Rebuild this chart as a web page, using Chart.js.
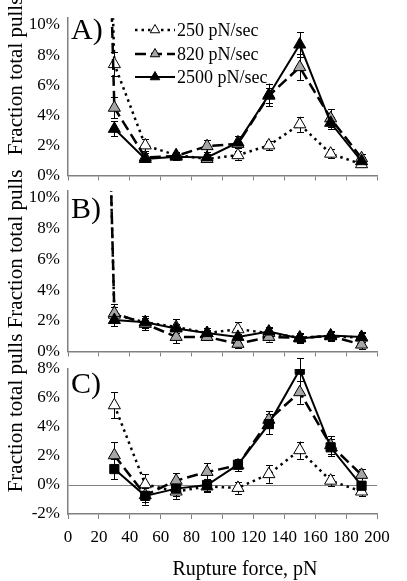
<!DOCTYPE html>
<html><head><meta charset="utf-8">
<script src="https://cdn.jsdelivr.net/npm/chart.js@4/dist/chart.umd.min.js"></script>
<style>html,body{margin:0;padding:0;background:#fff;overflow:hidden;width:407px;height:581px}
canvas{position:absolute;left:0;top:0}</style></head>
<body>
<canvas id="cA" width="407" height="581"></canvas>
<canvas id="cB" width="407" height="581"></canvas>
<canvas id="cC" width="407" height="581"></canvas>
<script>
// Rupture force categories (pN); 10 pN values are far off-scale (only their line stubs show)
const force = [10, 30, 50, 70, 90, 110, 130, 150, 170, 190];
const seriesLabels = ['250 pN/sec', '820 pN/sec', '2500 pN/sec'];
const yTitle = 'Fraction total pulls';
const xTitle = 'Rupture force, pN';

// Panel A (percent)
const a250  = [80, 7.4, 2.0, 1.35, 1.1, 1.35, 2.0, 3.4, 1.45, 0.75];
const a820  = [80, 4.5, 1.2, 1.3, 1.95, 2.1, 5.3, 7.2, 3.8, 1.15];
const a2500 = [null, 3.1, 1.1, 1.25, 1.2, 2.2, 5.35, 8.7, 3.5, 0.95];
const a250Err  = [null, 0.8, 0.4, 0.2, 0.2, 0.3, 0.3, 0.5, 0.3, 0.2];
const a820Err  = [null, 0.7, 0.3, 0.2, 0.4, 0.3, 0.5, 0.85, 0.6, 0.3];
const a2500Err = [null, 0.5, 0.2, 0.2, 0.2, 0.4, 0.75, 0.8, 0.4, 0.3];

// Panel B (percent)
const b250  = [80, 2.4, 1.9, 1.6, 1.2, 1.45, 1.2, 0.9, 1.0, 0.9];
const b820  = [80, 2.5, 1.8, 0.95, 0.95, 0.5, 0.95, 0.9, 1.0, 0.45];
const b2500 = [null, 2.05, 1.9, 1.5, 1.2, 0.95, 1.3, 0.85, 1.05, 0.95];
const b250Err  = [null, 0.5, 0.4, 0.5, 0.3, 0.45, 0.3, 0.3, 0.3, 0.3];
const b820Err  = [null, 0.6, 0.4, 0.4, 0.2, 0.3, 0.3, 0.3, 0.3, 0.3];
const b2500Err = [null, 0.4, 0.3, 0.3, 0.2, 0.2, 0.3, 0.3, 0.3, 0.3];

// Panel C (percent)
const c250  = [null, 5.5, 0.05, -0.45, -0.1, -0.2, 0.75, 2.4, 0.3, -0.45];
const c820  = [null, 2.05, -0.7, 0.3, 0.9, 1.35, 4.5, 6.4, 2.75, 0.7];
const c2500 = [null, 1.1, -0.75, -0.25, 0.0, 1.4, 4.2, 7.95, 2.6, -0.05];
const c250Err  = [null, 0.9, 0.7, 0.5, 0.4, 0.4, 0.6, 0.6, 0.4, 0.3];
const c820Err  = [null, 0.9, 0.5, 0.5, 0.6, 0.4, 0.6, 0.8, 0.6, 0.4];
const c2500Err = [null, 0.7, 0.6, 0.5, 0.4, 0.4, 0.7, 0.8, 0.6, 0.3];

const FONT = "'Liberation Serif','Times New Roman',serif";
Chart.defaults.font.family = FONT;
Chart.defaults.color = '#000';

const W = 407, H = 581;
const AXIS = '#808080';
const lineStyles = [
  {dash: [2.5, 4], width: 2.5, fill: '#ffffff'},
  {dash: [11, 5], width: 2.5, fill: '#a6a6a6'},
  {dash: [], width: 2, fill: '#000000'}
];

function toPts(vals) { return force.map((x, i) => ({x: x, y: vals[i]})); }

function drawMarker(ctx, shape, x, y, r, fill) {
  ctx.save();
  ctx.fillStyle = fill; ctx.strokeStyle = '#000'; ctx.lineWidth = 1; ctx.setLineDash([]);
  ctx.beginPath();
  if (shape === 'rect') {
    const s = r * Math.SQRT1_2;
    ctx.rect(x - s, y - s, 2 * s, 2 * s);
  } else {
    for (let k = 0; k < 3; k++) {
      const a = -Math.PI / 2 + k * 2 * Math.PI / 3;
      const px = x + r * Math.cos(a), py = y + r * Math.sin(a);
      if (k === 0) ctx.moveTo(px, py); else ctx.lineTo(px, py);
    }
    ctx.closePath();
  }
  ctx.fill(); ctx.stroke();
  ctx.restore();
}

const panelPlugin = {
  id: 'panelExtras',
  beforeDatasetsDraw(chart) {
    const o = chart.options.plugins.panelExtras;
    const ctx = chart.ctx, xs = chart.scales.x, ys = chart.scales.y;
    ctx.save();
    ctx.strokeStyle = '#000'; ctx.lineWidth = 1; ctx.setLineDash([]);
    o.errs.forEach((errArr, si) => {
      const vals = o.vals[si];
      force.forEach((f, i) => {
        if (errArr[i] == null || vals[i] == null) return;
        const px = Math.round(xs.getPixelForValue(f)) + 0.5;
        const y1 = ys.getPixelForValue(vals[i] + errArr[i]);
        const y2 = ys.getPixelForValue(vals[i] - errArr[i]);
        ctx.beginPath();
        ctx.moveTo(px, y1); ctx.lineTo(px, y2);
        ctx.moveTo(px - 3.5, Math.round(y1) + 0.5); ctx.lineTo(px + 3.5, Math.round(y1) + 0.5);
        ctx.moveTo(px - 3.5, Math.round(y2) + 0.5); ctx.lineTo(px + 3.5, Math.round(y2) + 0.5);
        ctx.stroke();
      });
    });
    ctx.restore();
  },
  afterDraw(chart) {
    const o = chart.options.plugins.panelExtras;
    const ctx = chart.ctx, ca = chart.chartArea;
    ctx.save();
    ctx.fillStyle = '#000';
    // panel letter
    ctx.font = '30px ' + FONT;
    ctx.textAlign = 'left'; ctx.textBaseline = 'alphabetic';
    ctx.fillText(o.letter, 71, o.letterY);
    // rotated y-axis title
    ctx.save();
    ctx.translate(o.titleX, o.titleY);
    ctx.rotate(-Math.PI / 2);
    ctx.font = '21px ' + FONT;
    ctx.textAlign = 'center'; ctx.textBaseline = 'middle';
    ctx.fillText(yTitle, 0, 0);
    ctx.restore();
    // legend
    if (o.legend) {
      const rows = [30, 54, 77];
      chart.data.datasets.forEach((ds, i) => {
        const y = rows[i];
        ctx.save();
        ctx.strokeStyle = '#000'; ctx.lineWidth = ds.borderWidth;
        ctx.setLineDash(ds.borderDash || []);
        ctx.beginPath(); ctx.moveTo(135, y); ctx.lineTo(175, y); ctx.stroke();
        ctx.restore();
        drawMarker(ctx, ds.pointStyle, 155, y, 5.5, ds.pointBackgroundColor);
        ctx.font = '18px ' + FONT;
        ctx.textAlign = 'left'; ctx.textBaseline = 'middle';
        ctx.fillText(ds.label, 177, y + 1);
      });
    }
    // x-axis title
    if (o.xTitle) {
      ctx.font = '20px ' + FONT;
      ctx.textAlign = 'center'; ctx.textBaseline = 'alphabetic';
      ctx.fillText(xTitle, 245, 575);
    }
    ctx.restore();
  }
};

function makePanel(cfg) {
  const shapes = ['triangle', 'triangle', cfg.lastShape];
  const datasets = cfg.vals.map((v, i) => ({
    label: seriesLabels[i],
    data: toPts(v),
    borderColor: '#000',
    borderWidth: lineStyles[i].width,
    borderDash: lineStyles[i].dash,
    pointStyle: shapes[i],
    pointRadius: shapes[i] === 'rect' ? 6.5 : 7,
    pointBackgroundColor: lineStyles[i].fill,
    pointBorderColor: '#000',
    pointBorderWidth: 1,
    tension: 0,
    spanGaps: false,
    order: 3 - i
  }));
  const xh = cfg.showX ? (H - cfg.bottom) : 6;
  return new Chart(document.getElementById(cfg.id), {
    type: 'line',
    data: {datasets: datasets},
    options: {
      responsive: false, animation: false, devicePixelRatio: 1,
      events: [],
      layout: {padding: {left: 0, right: W - 377, top: cfg.top, bottom: H - cfg.bottom - xh}},
      plugins: {
        legend: {display: false}, tooltip: {enabled: false},
        panelExtras: {
          letter: cfg.letter, letterY: cfg.letterY, titleX: 16, titleY: cfg.titleY,
          legend: cfg.legend, xTitle: cfg.showX, vals: cfg.vals, errs: cfg.errs
        }
      },
      scales: {
        x: {
          type: 'linear', min: 0, max: 200,
          afterFit(s) { s.height = xh; },
          ticks: {display: cfg.showX, stepSize: 20, font: {size: 17}, padding: 8, maxRotation: 0, autoSkip: false},
          grid: {drawOnChartArea: false, drawTicks: true, tickLength: 5, color: AXIS, lineWidth: 1},
          border: {display: true, color: AXIS, width: 1.5}
        },
        y: {
          min: cfg.yMin, max: cfg.yMax,
          afterFit(s) { s.width = 68; },
          afterBuildTicks(s) { s.ticks = s.ticks.filter(t => Math.abs(t.value / 2 - Math.round(t.value / 2)) < 1e-6); },
          ticks: {stepSize: 2, includeBounds: false, padding: 8, font: {size: 17}, callback: v => v + '%'},
          grid: {
            drawOnChartArea: cfg.zeroLine, drawTicks: false,
            color: c => (c.tick && c.tick.value === 0 && cfg.zeroLine) ? AXIS : 'rgba(0,0,0,0)',
            lineWidth: 1
          },
          border: {display: true, color: AXIS, width: 1.5}
        }
      }
    },
    plugins: [panelPlugin]
  });
}

makePanel({id: 'cA', top: 13.7, bottom: 175.5, yMin: 0, yMax: 10.45, letter: 'A)', letterY: 39, titleY: 76,
  legend: true, showX: false, zeroLine: false, lastShape: 'triangle',
  vals: [a250, a820, a2500], errs: [a250Err, a820Err, a2500Err]});
makePanel({id: 'cB', top: 191.1, bottom: 351.5, yMin: 0, yMax: 10.45, letter: 'B)', letterY: 218, titleY: 249,
  legend: false, showX: false, zeroLine: false, lastShape: 'triangle',
  vals: [b250, b820, b2500], errs: [b250Err, b820Err, b2500Err]});
makePanel({id: 'cC', top: 369, bottom: 514, yMin: -2, yMax: 8, letter: 'C)', letterY: 393, titleY: 413,
  legend: false, showX: true, zeroLine: true, lastShape: 'rect',
  vals: [c250, c820, c2500], errs: [c250Err, c820Err, c2500Err]});
</script>
</body></html>
